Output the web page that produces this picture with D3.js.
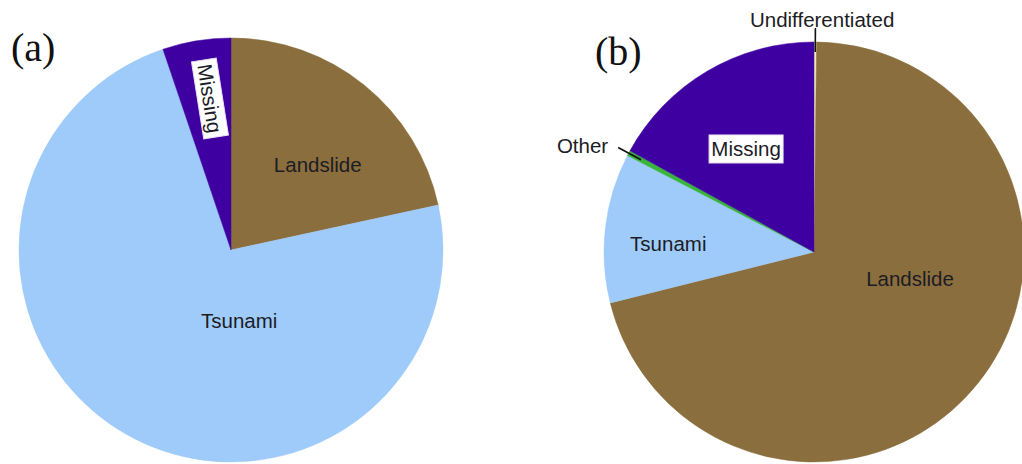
<!DOCTYPE html>
<html>
<head>
<meta charset="utf-8">
<script src="https://cdn.jsdelivr.net/npm/d3@7"></script>
<style>
  html, body { margin: 0; padding: 0; background: #ffffff; }
  svg { display: block; }
</style>
</head>
<body>
<svg id="chart" width="1022" height="464"></svg>
<script>
// ---- Data (percent of total) ----
const categoriesA = ["Landslide", "Tsunami", "Missing"];
const valuesA     = [21.6, 73.2, 5.2];

const categoriesB = ["Undifferentiated", "Landslide", "Tsunami", "Other", "Missing"];
const valuesB     = [0.2, 70.9, 11.5, 0.4, 17.0];

const panelLabels = ["(a)", "(b)"];

// ---- Styles ----
const colors = {
  "Landslide": "#8b6e3d",
  "Tsunami": "#9ecbf9",
  "Missing": "#3f00a2",
  "Other": "#38b53a",
  "Undifferentiated": "#f4edc4"
};
const labelFont = "'Liberation Sans', Arial, Helvetica, sans-serif";
const textColor = "#1c1c24";

const svg = d3.select("#chart");

function drawPie(cfg) {
  const data = cfg.categories.map((c, i) => ({ name: c, value: cfg.values[i] }));
  const pie = d3.pie().value(d => d.value).sort(null).startAngle(0).endAngle(2 * Math.PI);
  const arcs = pie(data);
  const arc = d3.arc().innerRadius(0).outerRadius(cfg.r);
  const g = svg.append("g").attr("transform", `translate(${cfg.cx},${cfg.cy})`);

  g.selectAll("path.slice").data(arcs).enter().append("path")
    .attr("class", "slice")
    .attr("d", arc)
    .attr("fill", d => colors[d.data.name])
    .attr("stroke", d => colors[d.data.name])
    .attr("stroke-width", 0.5);

  const byName = {};
  arcs.forEach(a => byName[a.data.name] = a);

  // labels
  cfg.labels.forEach(L => {
    const a = byName[L.name];
    const mid = (a.startAngle + a.endAngle) / 2;
    const ang = L.angle !== undefined ? L.angle * Math.PI / 180 : mid;
    const px = L.radius * Math.sin(ang);
    const py = -L.radius * Math.cos(ang);
    if (L.leader) {
      const r0 = L.leader[0], r1 = L.leader[1];
      g.append("line")
        .attr("x1", r0 * Math.sin(mid)).attr("y1", -r0 * Math.cos(mid))
        .attr("x2", r1 * Math.sin(mid)).attr("y2", -r1 * Math.cos(mid))
        .attr("stroke", "#111").attr("stroke-width", 1.6);
    }
    const lg = g.append("g")
      .attr("transform", `translate(${px + (L.dx || 0)},${py + (L.dy || 0)}) rotate(${L.rotate || 0})`);
    if (L.box) {
      lg.append("rect")
        .attr("x", -L.box[0] / 2).attr("y", -L.box[1] / 2)
        .attr("width", L.box[0]).attr("height", L.box[1])
        .attr("fill", "#ffffff").attr("stroke", "#e8e0f0").attr("stroke-width", 1);
    }
    lg.append("text")
      .attr("x", 0).attr("y", 0)
      .attr("text-anchor", L.anchor || "middle")
      .attr("dominant-baseline", "central")
      .attr("font-family", labelFont)
      .attr("font-size", 20.5)
      .attr("fill", textColor)
      .text(L.name);
  });
}

drawPie({
  categories: categoriesA, values: valuesA,
  cx: 231, cy: 250, r: 212,
  labels: [
    { name: "Landslide", angle: 45.3, radius: 122 },
    { name: "Tsunami", angle: 173.4, radius: 71 },
    { name: "Missing", angle: -7.9, radius: 153, rotate: 81, box: [78, 25] }
  ]
});

drawPie({
  categories: categoriesB, values: valuesB,
  cx: 814, cy: 252, r: 210,
  labels: [
    { name: "Landslide", angle: 105.2, radius: 99.5 },
    { name: "Tsunami", angle: 273.5, radius: 146 },
    { name: "Missing", angle: 326.6, radius: 123.4, box: [74, 28] },
    { name: "Other", angle: 297.0, radius: 231, anchor: "end", dy: -2, leader: [196, 222] },
    { name: "Undifferentiated", angle: 2.0, radius: 233, leader: [200, 224] }
  ]
});

// panel labels
svg.append("text").attr("x", 11).attr("y", 61)
  .attr("font-family", "'Liberation Serif', 'Times New Roman', serif")
  .attr("font-size", 40).attr("fill", "#111").text(panelLabels[0]);
svg.append("text").attr("x", 595).attr("y", 65)
  .attr("font-family", "'Liberation Serif', 'Times New Roman', serif")
  .attr("font-size", 40).attr("fill", "#111").text(panelLabels[1]);
</script>
</body>
</html>
